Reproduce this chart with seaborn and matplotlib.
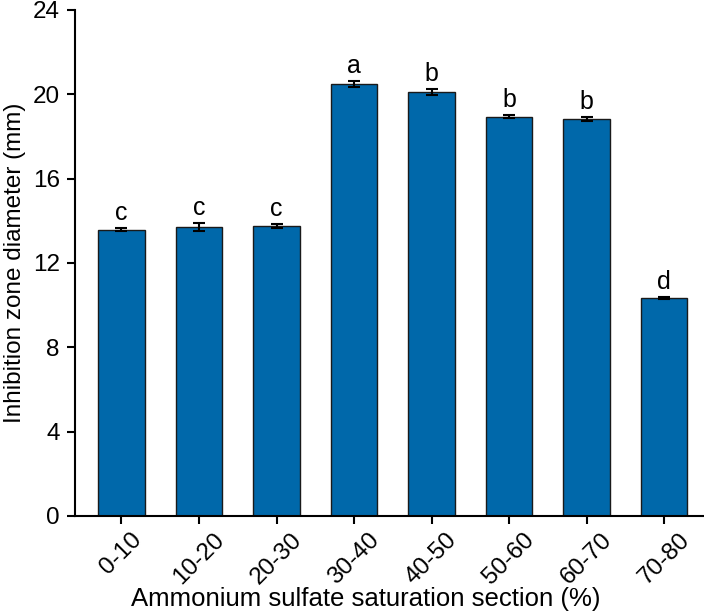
import matplotlib
matplotlib.use("Agg")
import matplotlib.pyplot as plt
import seaborn as sns
import pandas as pd

# data
sections = ['0-10', '10-20', '20-30', '30-40', '40-50', '50-60', '60-70', '70-80']
diameter = [13.57, 13.71, 13.76, 20.49, 20.11, 18.93, 18.83, 10.34]
error = [0.08, 0.2, 0.1, 0.15, 0.15, 0.08, 0.08, 0.06]
letters = ['c', 'c', 'c', 'a', 'b', 'b', 'b', 'd']

df = pd.DataFrame({'Section': sections, 'Diameter': diameter})

sns.set_style('ticks')
plt.rcParams['font.family'] = ['Liberation Sans', 'DejaVu Sans']
plt.rcParams['text.color'] = 'black'
plt.rcParams['axes.labelcolor'] = 'black'
plt.rcParams['xtick.color'] = 'black'
plt.rcParams['ytick.color'] = 'black'

fig = plt.figure(figsize=(7.04, 6.15), dpi=100)
ax = fig.add_axes([0.1065, 0.161, 0.892, 0.823])

sns.barplot(data=df, x='Section', y='Diameter', color='#0068AA', saturation=1,
            width=0.6, edgecolor='#1a1a1a', linewidth=1, ax=ax)
ax.errorbar(range(len(sections)), diameter, yerr=error, fmt='none',
            ecolor='black', elinewidth=1.5, capsize=4.5, capthick=1.5)

# significance letters
for i, (v, e, l) in enumerate(zip(diameter, error, letters)):
    ax.annotate(l, (i, v + e), xytext=(0, 2), textcoords='offset points',
                ha='center', va='bottom', fontsize=18)

ax.set_xlim(-0.6, 7.5)
ax.set_ylim(0, 24)
ax.set_yticks(range(0, 25, 4))
ax.set_xlabel('Ammonium sulfate saturation section (%)', fontsize=18.5)
ax.set_ylabel('Inhibition zone diameter (mm)', fontsize=17.5)
ax.xaxis.set_label_coords(0.463, -0.14)
ax.yaxis.set_label_coords(-0.078, 0.5)
ax.tick_params(axis='both', labelsize=17.5, length=6, width=1.5)
ax.tick_params(axis='y', pad=5)
ax.tick_params(axis='x', pad=3)
plt.setp(ax.get_xticklabels(), rotation=45, ha='center')
for s in ['left', 'bottom']:
    ax.spines[s].set_linewidth(1.5)
    ax.spines[s].set_color('black')
sns.despine(ax=ax)

fig.savefig('out.png', dpi=100)
